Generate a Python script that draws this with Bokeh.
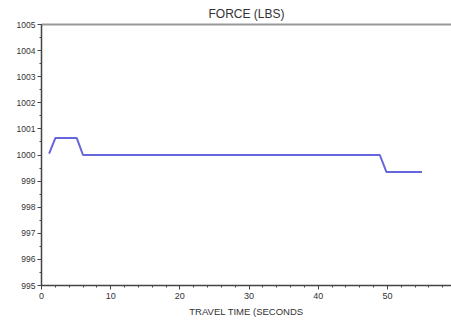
from bokeh.plotting import figure
from bokeh.models import LinearAxis, FixedTicker, Range1d, Title
from bokeh.embed import file_html
from bokeh.resources import INLINE

time_s = [1.1, 2.0, 5.1, 6.0, 48.9, 49.85, 55.0]
force_lbs = [1000.05, 1000.65, 1000.65, 1000.0, 1000.0, 999.35, 999.35]
x_ticks = [0, 10, 20, 30, 40, 50, 60]
y_ticks = [995, 996, 997, 998, 999, 1000, 1001, 1002, 1003, 1004, 1005]

p = figure(output_backend="svg", toolbar_location=None,
           x_range=Range1d(0, 59.26), y_range=Range1d(995, 1005),
           x_axis_location=None, y_axis_location=None,
           frame_width=410, frame_height=261,
           min_border_left=41, min_border_right=0, min_border_top=24, min_border_bottom=0)
p.outline_line_color = None
p.xgrid.visible = False
p.ygrid.visible = False
p.background_fill_color = "white"

FONT = "Liberation Sans"
p.title = Title(text="FORCE (LBS)", align="center", text_font=FONT,
                text_font_size="12px", text_font_style="normal", text_color="#333333",
                standoff=8, offset=0)

xa = LinearAxis(ticker=FixedTicker(ticks=x_ticks, minor_ticks=list(range(0, 61, 2))))
xa.axis_label = "TRAVEL TIME (SECONDS"
xa.axis_label_text_font = FONT
xa.axis_label_text_font_size = "9.5px"
xa.axis_label_text_font_style = "normal"
xa.axis_label_text_color = "#333333"
xa.axis_label_standoff = 4
xa.major_label_text_font = FONT
xa.major_label_text_font_size = "9px"
xa.major_label_text_color = "#333333"
xa.major_label_standoff = 3
xa.axis_line_color = "#444444"
xa.axis_line_width = 1.5
xa.major_tick_line_color = "#444444"
xa.minor_tick_line_color = "#444444"
xa.major_tick_out = 4
xa.major_tick_in = 0
xa.minor_tick_out = 2
xa.minor_tick_in = 0
p.add_layout(xa, "below")

ya = LinearAxis(ticker=FixedTicker(ticks=y_ticks, minor_ticks=[995 + 0.5 * i for i in range(21)]))
ya.major_label_text_font = FONT
ya.major_label_text_font_size = "8.5px"
ya.major_label_text_color = "#333333"
ya.major_label_standoff = 2
ya.axis_line_color = "#444444"
ya.axis_line_width = 1.5
ya.major_tick_line_color = "#444444"
ya.minor_tick_line_color = "#444444"
ya.major_tick_out = 4
ya.major_tick_in = 0
ya.minor_tick_out = 2
ya.minor_tick_in = 0
p.add_layout(ya, "left")

top = LinearAxis(ticker=FixedTicker(ticks=[]))
top.axis_line_color = "#999999"
top.axis_line_width = 2
top.major_tick_line_color = None
top.minor_tick_line_color = None
top.major_label_text_font_size = "0px"
p.add_layout(top, "above")

p.line(time_s, force_lbs, line_color="#6666dd", line_width=2)

open("out.html", "w").write(file_html(p, INLINE))
